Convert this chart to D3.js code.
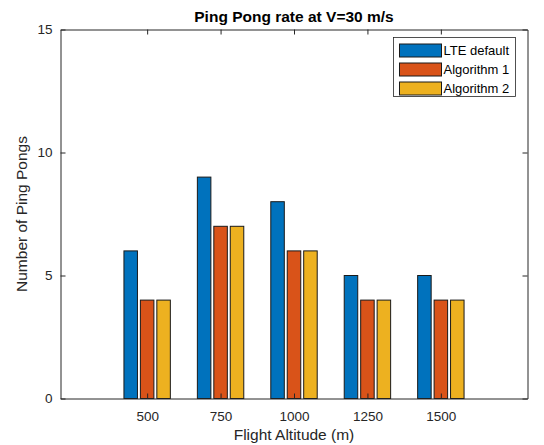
<!DOCTYPE html>
<html>
<head>
<meta charset="utf-8">
<script src="https://cdn.jsdelivr.net/npm/d3@7"></script>
<style>
  body { margin: 0; background: #fff; }
  svg { font-family: "Liberation Sans", Arial, sans-serif; }
</style>
</head>
<body>
<div class="chart"></div>
<script>
// data
var altitudes = [500, 750, 1000, 1250, 1500];
var seriesNames = ["LTE default", "Algorithm 1", "Algorithm 2"];
var lteDefault = [6, 9, 8, 5, 5];
var algorithm1 = [4, 7, 6, 4, 4];
var algorithm2 = [4, 7, 6, 4, 4];
var yTicks = [0, 5, 10, 15];
var colors = ["#0072BD", "#D95319", "#EDB120"];

var width = 544,
    height = 445;
var margin = {left: 60.5, right: 16.5, top: 29.5, bottom: 46.5};
var textColor = "#262626";

var svg = d3.select(".chart")
  .append("svg")
    .attr("width", width)
    .attr("height", height);

var x = d3.scaleLinear()
    .domain([205, 1795])
    .range([margin.left, width - margin.right]);

var y = d3.scaleLinear()
    .domain([0, 15])
    .range([height - margin.bottom, margin.top]);

// bars: 3 per group, offset from group centre
var series = [lteDefault, algorithm1, algorithm2];
var offset = 56, barW = 46;   // in altitude units

series.forEach(function(vals, s){
  svg.append("g")
    .selectAll("rect")
    .data(vals)
    .join("rect")
      .attr("x", (d, i) => x(altitudes[i] + (s - 1) * offset - barW / 2))
      .attr("width", x(barW) - x(0))
      .attr("y", d => y(d))
      .attr("height", d => y(0) - y(d))
      .style("fill", colors[s])
      .attr("stroke", "#1a1a1a")
      .style("stroke-width", "1px");
});

// axes (drawn above bars, ticks inside like matlab)
var tl = 5;
var xAxis = svg.append("g")
    .attr("transform", "translate(0," + y(0) + ")")
    .call(d3.axisBottom(x).tickValues(altitudes).tickSizeInner(-tl).tickSizeOuter(0).tickPadding(13).tickFormat(d3.format("d")));
var xTop = svg.append("g")
    .attr("transform", "translate(0," + y(15) + ")")
    .call(d3.axisTop(x).tickValues(altitudes).tickSizeInner(-tl).tickSizeOuter(0).tickFormat(""));
var yAxis = svg.append("g")
    .attr("transform", "translate(" + x(205) + ",0)")
    .call(d3.axisLeft(y).tickValues(yTicks).tickSizeInner(-tl).tickSizeOuter(0).tickPadding(8));
var yRight = svg.append("g")
    .attr("transform", "translate(" + x(1795) + ",0)")
    .call(d3.axisRight(y).tickValues(yTicks).tickSizeInner(-tl).tickSizeOuter(0).tickFormat(""));

[xAxis, xTop, yAxis, yRight].forEach(function(g){
  g.attr("font-size", 13.5).attr("font-family", "Liberation Sans, Arial, sans-serif");
  g.selectAll("path, line").attr("stroke", textColor);
  g.selectAll("text").attr("fill", textColor);
});

// title + axis labels
svg.append("text")
  .attr("x", (x(205) + x(1795)) / 2)
  .attr("y", 22)
  .attr("text-anchor", "middle")
  .attr("font-size", 15.5)
  .attr("font-weight", "bold")
  .attr("fill", "#000")
  .text("Ping Pong rate at V=30 m/s");

svg.append("text")
  .attr("x", (x(205) + x(1795)) / 2)
  .attr("y", 440)
  .attr("text-anchor", "middle")
  .attr("font-size", 15.5)
  .attr("fill", textColor)
  .text("Flight Altitude (m)");

svg.append("text")
  .attr("transform", "translate(27," + (y(7.5)) + ") rotate(-90)")
  .attr("text-anchor", "middle")
  .attr("font-size", 15.5)
  .attr("fill", textColor)
  .text("Number of Ping Pongs");

// legend
var leg = svg.append("g").attr("transform", "translate(393.5,37.5)");
leg.append("rect")
  .attr("width", 122)
  .attr("height", 59)
  .attr("fill", "#fff")
  .attr("stroke", "#262626")
  .style("stroke-width", "0.8px");
seriesNames.forEach(function(name, i){
  leg.append("rect")
    .attr("x", 6)
    .attr("y", 6.5 + i * 19)
    .attr("width", 42)
    .attr("height", 13)
    .style("fill", colors[i])
    .attr("stroke", "#1a1a1a");
  leg.append("text")
    .attr("x", 50)
    .attr("y", 17.5 + i * 19)
    .attr("font-size", 13)
    .attr("fill", "#000")
    .text(name);
});
</script>
</body>
</html>
